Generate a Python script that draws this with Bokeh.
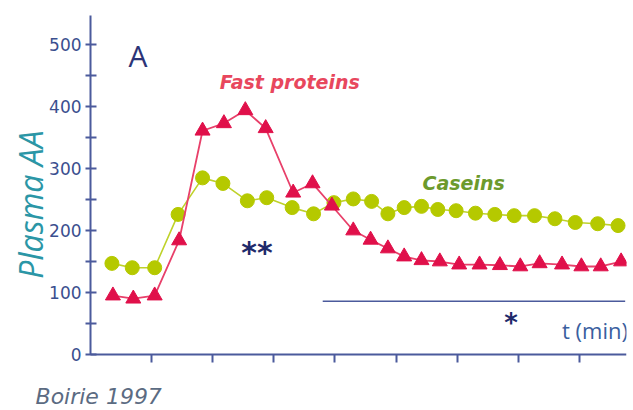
import math
from bokeh.plotting import figure
from bokeh.models import Label, FixedTicker, Range1d
from bokeh.embed import file_html
from bokeh.resources import INLINE

# ---- data (time in min, plasma AA) ----
casein_t = [21, 41, 63, 86, 110, 130, 154, 173, 198, 219, 239, 258, 276, 292, 308, 325,
            341, 359, 378, 397, 416, 436, 456, 476, 498, 518]
casein_v = [147, 140, 140, 226, 285, 276, 248, 253, 237, 227, 245, 251, 247, 227, 237, 239,
            234, 232, 228, 226, 224, 224, 219, 213, 211, 208]
fast_t = [22, 42, 63, 87, 110, 131, 152, 172, 199, 218, 237, 258, 275, 292, 308, 325,
          343, 362, 382, 402, 422, 441, 463, 482, 501, 521]
fast_v = [95, 90, 95, 184, 361, 373, 394, 365, 261, 276, 240, 200, 185, 171, 158, 152,
          150, 145, 145, 144, 142, 147, 145, 142, 142, 150]
x_ticks = [60, 120, 180, 240, 300, 360, 420, 480]
y_ticks = [0, 100, 200, 300, 400, 500]
y_minor = [50, 150, 250, 350, 450]
x_axis_end = 526
y_axis_end = 547
sig_line_t = [228, 525]
sig_line_v = [86, 86]

AXIS = "#4b5a9c"

p = figure(width=628, height=410, output_backend="svg", toolbar_location=None,
           x_range=Range1d(-88.4, 526.3), y_range=Range1d(-90.4, 571.2),
           min_border_left=0, min_border_right=2, min_border_top=0, min_border_bottom=0)
p.outline_line_color = None
p.xgrid.visible = False
p.ygrid.visible = False
p.background_fill_color = "white"
p.border_fill_color = "white"

# x axis (drawn at y = 0)
xa = p.xaxis[0]
xa.fixed_location = 0
xa.bounds = (0, x_axis_end)
xa.ticker = FixedTicker(ticks=x_ticks)
xa.axis_line_color = AXIS
xa.axis_line_width = 2
xa.major_tick_line_color = AXIS
xa.major_tick_line_width = 2
xa.major_tick_in = 0
xa.major_tick_out = 8
xa.minor_tick_line_color = None
xa.major_label_overrides = {t: "" for t in x_ticks}
xa.major_label_standoff = 0

# y axis (drawn at x = 0)
ya = p.yaxis[0]
ya.fixed_location = 0
ya.bounds = (0, y_axis_end)
ya.ticker = FixedTicker(ticks=y_ticks, minor_ticks=y_minor)
ya.axis_line_color = AXIS
ya.axis_line_width = 2
ya.major_tick_line_color = AXIS
ya.major_tick_line_width = 2
ya.major_tick_in = 6
ya.major_tick_out = 5
ya.minor_tick_line_color = AXIS
ya.minor_tick_line_width = 2
ya.minor_tick_in = 6
ya.minor_tick_out = 5
ya.major_label_text_font = "DejaVu Sans"
ya.major_label_text_font_size = "17px"
ya.major_label_text_color = "#3b4f8f"
ya.major_label_standoff = 4

# series
p.line(casein_t, casein_v, line_color="#bfd22b", line_width=1.6)
p.scatter(casein_t, casein_v, marker="circle", size=14, fill_color="#b5c900", line_color="#b5c900")
p.line(fast_t, fast_v, line_color="#e8406a", line_width=1.8)
p.scatter(fast_t, fast_v, marker="triangle", size=15, fill_color="#e0104a", line_color="#e0104a")

# significance line
p.line(sig_line_t, sig_line_v, line_color=AXIS, line_width=1.5)

def lab(x, y, text, **kw):
    p.add_layout(Label(x=x, y=y, text=text, **kw))

lab(-59, 242, "Plasma AA", angle=math.pi / 2, text_align="center", text_baseline="middle",
    text_font="Open Sans", text_font_style="italic", text_font_size="32px", text_color="#2b96a6")
lab(-54, -68, "Boirie 1997", text_align="left", text_baseline="middle",
    text_font="DejaVu Sans", text_font_style="italic", text_font_size="22px", text_color="#5b6b82")
lab(46.6, 482, "A", text_align="center", text_baseline="middle",
    text_font="Open Sans", text_font_size="30px", text_color="#2c3477")
lab(127, 440, "Fast proteins", text_align="left", text_baseline="middle",
    text_font="DejaVu Sans", text_font_style="bold italic", text_font_size="19px", text_color="#e8475d")
lab(326, 277, "Caseins", text_align="left", text_baseline="middle",
    text_font="DejaVu Sans", text_font_style="bold italic", text_font_size="19px", text_color="#6c9a2c")
lab(163.5, 164, "**", text_align="center", text_baseline="alphabetic",
    text_font="DejaVu Sans", text_font_style="bold", text_font_size="30px", text_color="#1f2a6b")
lab(413, 51, "*", text_align="center", text_baseline="alphabetic",
    text_font="DejaVu Sans", text_font_style="bold", text_font_size="26px", text_color="#1f2a6b")
lab(463, 38.7, "t (min)", text_align="left", text_baseline="middle",
    text_font="Open Sans", text_font_size="22px", text_color="#3a5fa0")

open("out.html", "w").write(file_html(p, INLINE))
